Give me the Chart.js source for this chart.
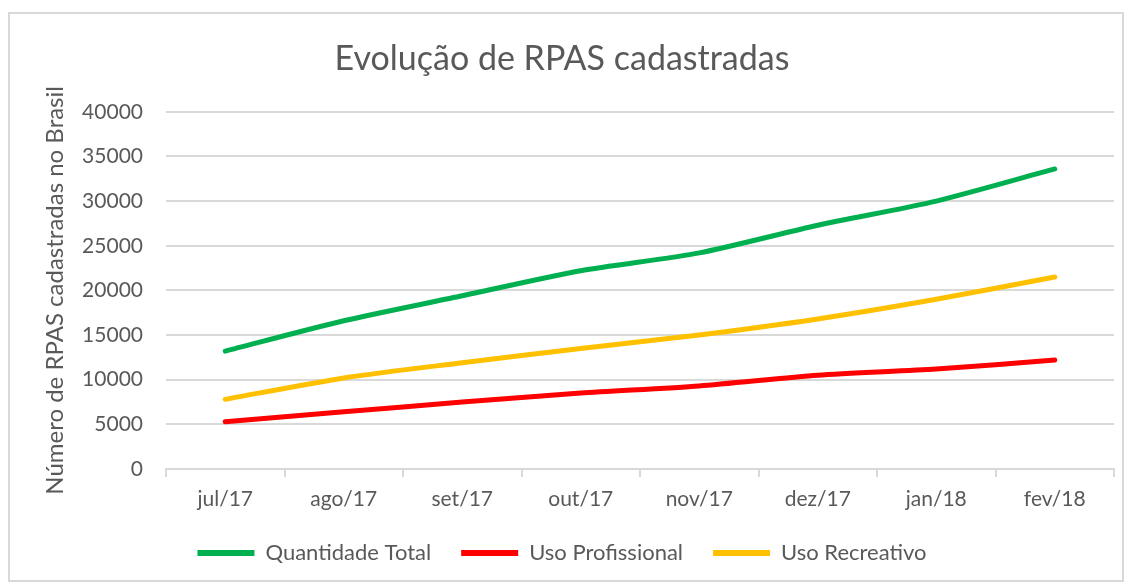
<!DOCTYPE html>
<html>
<head>
<meta charset="utf-8">
<script src="https://cdn.jsdelivr.net/npm/chart.js@4/dist/chart.umd.min.js"></script>
<style>
  html, body { margin: 0; padding: 0; background: #fff; }
  #frame {
    position: absolute; left: 8px; top: 12px;
    width: 1116px; height: 570px;
    border: 2px solid #d9d9d9; box-sizing: border-box;
  }
  #wrap { position: absolute; left: 0; top: 0; width: 1112px; height: 566px; }
</style>
</head>
<body>
<div id="frame"><div id="wrap"><canvas id="rpas-chart"></canvas></div></div>
<script>
const meses = ['jul/17', 'ago/17', 'set/17', 'out/17', 'nov/17', 'dez/17', 'jan/18', 'fev/18'];
const quantidadeTotal = [13200, 16600, 19400, 22200, 24200, 27300, 30000, 33600];
const usoProfissional = [5300, 6400, 7500, 8500, 9300, 10500, 11200, 12200];
const usoRecreativo = [7800, 10200, 11900, 13500, 15000, 16800, 19000, 21500];
const yTicks = [0, 5000, 10000, 15000, 20000, 25000, 30000, 35000, 40000];

document.addEventListener('DOMContentLoaded', function () {
  const textColor = '#595959';
  const gridColor = '#d9d9d9';
  const fontName = 'Lato';

  function serie(label, data, color) {
    return {
      label: label,
      data: data,
      borderColor: color,
      backgroundColor: color,
      borderWidth: 5,
      borderCapStyle: 'round',
      pointRadius: 0,
      pointHoverRadius: 0,
      tension: 0.25,
      fill: false
    };
  }

  const ctx = document.getElementById('rpas-chart').getContext('2d');
  new Chart(ctx, {
    type: 'line',
    data: {
      labels: meses,
      datasets: [
        serie('Quantidade Total', quantidadeTotal, '#00b050'),
        serie('Uso Profissional', usoProfissional, '#ff0000'),
        serie('Uso Recreativo', usoRecreativo, '#ffc000')
      ]
    },
    options: {
      responsive: true,
      maintainAspectRatio: false,
      animation: false,
      layout: { padding: { left: 0, right: 8, top: 0, bottom: 6 } },
      plugins: {
        tooltip: { enabled: false },
        title: {
          display: true,
          text: 'Evolução de RPAS cadastradas',
          color: textColor,
          font: { family: fontName, size: 34, weight: 'normal' },
          padding: { top: 25, bottom: 32 }
        },
        legend: {
          position: 'bottom',
          labels: {
            color: textColor,
            font: { family: fontName, size: 22 },
            boxWidth: 57,
            boxHeight: 6,
            padding: 30,
            generateLabels: function (chart) {
              return Chart.defaults.plugins.legend.labels.generateLabels(chart).map(function (l) {
                l.lineWidth = 0;
                return l;
              });
            }
          }
        }
      },
      scales: {
        x: {
          offset: true,
          afterFit: function (s) { s.height = 43; },
          grid: {
            offset: true,
            drawOnChartArea: false,
            drawTicks: true,
            tickLength: 8,
            color: gridColor,
            lineWidth: 2
          },
          border: { display: true, color: gridColor, width: 2 },
          ticks: {
            color: textColor,
            font: { family: fontName, size: 21 },
            padding: 10,
            maxRotation: 0
          }
        },
        y: {
          min: 0,
          max: 40000,
          afterFit: function (s) { s.width = 156; },
          afterBuildTicks: function (s) { s.ticks = yTicks.map(function (v) { return { value: v }; }); },
          grid: { color: gridColor, lineWidth: 2, drawTicks: false },
          border: { display: false },
          ticks: {
            color: textColor,
            font: { family: fontName, size: 21 },
            padding: 23,
            callback: function (v) { return String(v); }
          },
          title: {
            display: true,
            text: 'Número de RPAS cadastradas no Brasil',
            color: textColor,
            font: { family: fontName, size: 24 },
            padding: { top: 31, bottom: 0 }
          }
        }
      }
    }
  });
});
</script>
</body>
</html>
